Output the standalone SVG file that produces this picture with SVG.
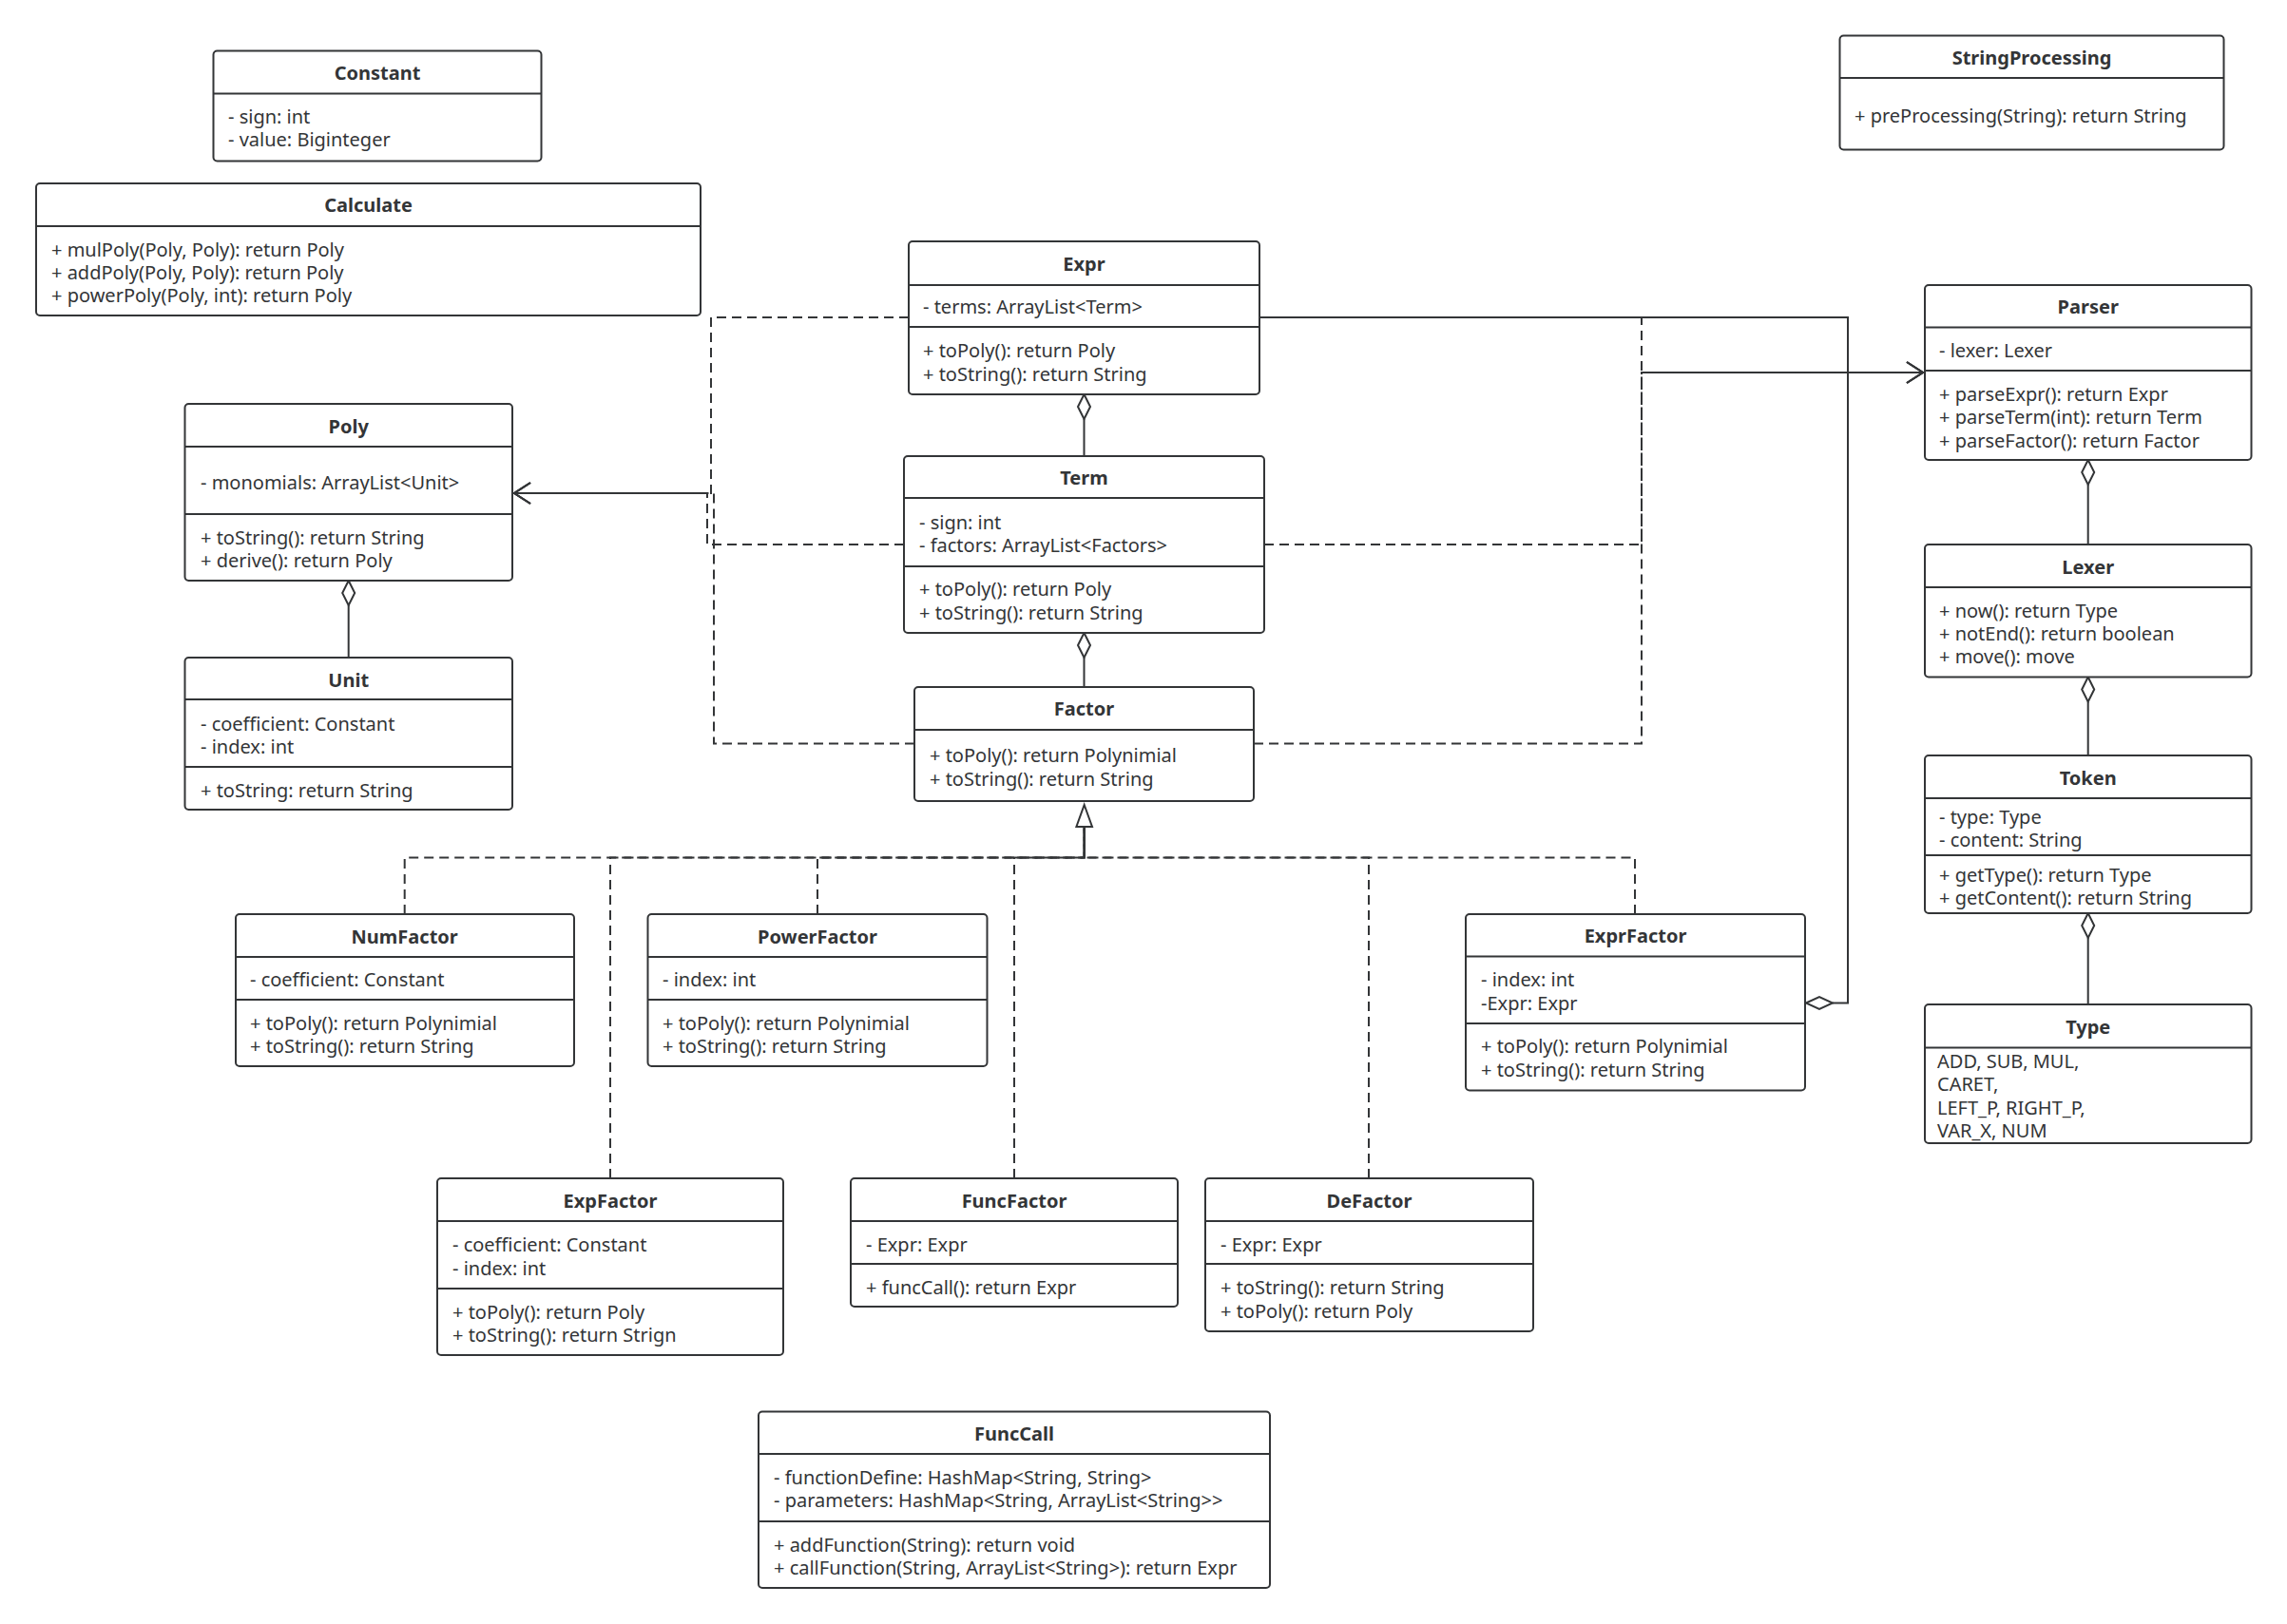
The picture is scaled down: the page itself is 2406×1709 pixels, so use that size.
<svg xmlns="http://www.w3.org/2000/svg" width="2406" height="1709" viewBox="0 0 2406 1709">
<style>
.bg{fill:#ffffff}
.box{fill:#ffffff;stroke:#333537;stroke-width:2}
.dv{stroke:#333537;stroke-width:2}
.t{font-family:"Noto Sans","Open Sans",sans-serif;font-size:20px;fill:#333537;dominant-baseline:central}
.h{font-weight:bold;text-anchor:middle}
.dash{fill:none;stroke:#333537;stroke-width:2;stroke-dasharray:10 6}
.solid{fill:none;stroke:#333537;stroke-width:2}
.dia{fill:#ffffff;stroke:#333537;stroke-width:2}
</style>
<defs>
<marker id="open" markerUnits="userSpaceOnUse" markerWidth="24" markerHeight="28" viewBox="0 0 24 28" refX="20" refY="14" orient="auto">
<path d="M3,3 L20,14 L3,25" fill="none" stroke="#333537" stroke-width="2"/>
</marker>
</defs>
<rect class="bg" x="0" y="0" width="2406" height="1709"/>

<g id="connectors">
<!-- dependencies to Poly -->
<path class="dash" d="M956,334 H748 V519 H541" marker-end="url(#open)"/>
<path class="dash" d="M951,573 H744 V519 H541" marker-end="url(#open)"/>
<path class="dash" d="M962,782.5 H751 V519 H541" marker-end="url(#open)"/>
<!-- dependencies to Parser -->
<path class="dash" d="M1325,334 H1727 V392 H2023" marker-end="url(#open)"/>
<path class="dash" d="M1330,573 H1727 V392 H2023" marker-end="url(#open)"/>
<path class="dash" d="M1319,782.5 H1727 V392 H2023" marker-end="url(#open)"/>
<!-- Expr - ExprFactor aggregation -->
<path class="solid" d="M1325,334 H1944 V1055.5 H1928"/>
<polygon class="dia" points="1900,1055.5 1914,1049 1928,1055.5 1914,1062"/>
<!-- aggregations -->
<path class="solid" d="M1140.5,441 V480"/>
<polygon class="dia" points="1140.5,415 1147,428 1140.5,441 1134,428"/>
<path class="solid" d="M1140.5,692 V723"/>
<polygon class="dia" points="1140.5,666 1147,679 1140.5,692 1134,679"/>
<path class="solid" d="M366.7,637 V692"/>
<polygon class="dia" points="366.7,611 373.2,624 366.7,637 360.2,624"/>
<path class="solid" d="M2196.7,510 V573"/>
<polygon class="dia" points="2196.7,484 2203.2,497 2196.7,510 2190.2,497"/>
<path class="solid" d="M2196.7,738.5 V795"/>
<polygon class="dia" points="2196.7,712.5 2203.2,725.5 2196.7,738.5 2190.2,725.5"/>
<path class="solid" d="M2196.7,987 V1057"/>
<polygon class="dia" points="2196.7,961 2203.2,974 2196.7,987 2190.2,974"/>
<!-- realizations to Factor -->
<path class="dash" d="M425.7,962 V902.5 H1140.7 V870"/>
<path class="dash" d="M642,1240 V902.5 H1140.7 V870"/>
<path class="dash" d="M860,962 V902.5 H1140.7 V870"/>
<path class="dash" d="M1067,1240 V902.5 H1140.7 V870"/>
<path class="dash" d="M1440,1240 V902.5 H1140.7 V870"/>
<path class="dash" d="M1720,962 V902.5 H1140.7 V870"/>
<path class="solid" d="M1140.7,902.5 V870"/>
<polygon class="dia" points="1140.7,847 1149,870 1132.4,870"/>
</g>

<g id="Constant">
<rect class="box" x="224.5" y="53.5" width="345" height="116" rx="4"/>
<line class="dv" x1="224.5" y1="98.5" x2="569.5" y2="98.5"/>
<text class="t h" x="397" y="76">Constant</text>
<text class="t" x="240" y="122.5">- sign: int</text>
<text class="t" x="240" y="146.5">- value: Biginteger</text>
</g>

<g id="Calculate">
<rect class="box" x="38" y="193" width="699" height="139" rx="4"/>
<line class="dv" x1="38" y1="238" x2="737" y2="238"/>
<text class="t h" x="387.5" y="215.5">Calculate</text>
<text class="t" x="54" y="262">+ mulPoly(Poly, Poly): return Poly</text>
<text class="t" x="54" y="286">+ addPoly(Poly, Poly): return Poly</text>
<text class="t" x="54" y="310">+ powerPoly(Poly, int): return Poly</text>
</g>

<g id="StringProcessing">
<rect class="box" x="1935.5" y="37.5" width="404" height="120" rx="4"/>
<line class="dv" x1="1935.5" y1="82" x2="2339.5" y2="82"/>
<text class="t h" x="2137.5" y="60">StringProcessing</text>
<text class="t" x="1951" y="121">+ preProcessing(String): return String</text>
</g>

<g id="Expr">
<rect class="box" x="956" y="254" width="369" height="161" rx="4"/>
<line class="dv" x1="956" y1="300" x2="1325" y2="300"/>
<line class="dv" x1="956" y1="344" x2="1325" y2="344"/>
<text class="t h" x="1140.5" y="277">Expr</text>
<text class="t" x="971" y="322.5">- terms: ArrayList&lt;Term&gt;</text>
<text class="t" x="971" y="368">+ toPoly(): return Poly</text>
<text class="t" x="971" y="393">+ toString(): return String</text>
</g>

<g id="Term">
<rect class="box" x="951" y="480" width="379" height="186" rx="4"/>
<line class="dv" x1="951" y1="524" x2="1330" y2="524"/>
<line class="dv" x1="951" y1="596" x2="1330" y2="596"/>
<text class="t h" x="1140.5" y="502">Term</text>
<text class="t" x="967" y="549">- sign: int</text>
<text class="t" x="967" y="573">- factors: ArrayList&lt;Factors&gt;</text>
<text class="t" x="967" y="619">+ toPoly(): return Poly</text>
<text class="t" x="967" y="644">+ toString(): return String</text>
</g>

<g id="Factor">
<rect class="box" x="962" y="723" width="357" height="120" rx="4"/>
<line class="dv" x1="962" y1="768" x2="1319" y2="768"/>
<text class="t h" x="1140.5" y="745.5">Factor</text>
<text class="t" x="978" y="794">+ toPoly(): return Polynimial</text>
<text class="t" x="978" y="819">+ toString(): return String</text>
</g>

<g id="Poly">
<rect class="box" x="194.5" y="425" width="344.5" height="186" rx="4"/>
<line class="dv" x1="194.5" y1="470" x2="539" y2="470"/>
<line class="dv" x1="194.5" y1="541" x2="539" y2="541"/>
<text class="t h" x="366.7" y="448">Poly</text>
<text class="t" x="211" y="507">- monomials: ArrayList&lt;Unit&gt;</text>
<text class="t" x="211" y="565">+ toString(): return String</text>
<text class="t" x="211" y="589.5">+ derive(): return Poly</text>
</g>

<g id="Unit">
<rect class="box" x="194.5" y="692" width="344.5" height="160" rx="4"/>
<line class="dv" x1="194.5" y1="736" x2="539" y2="736"/>
<line class="dv" x1="194.5" y1="807" x2="539" y2="807"/>
<text class="t h" x="366.7" y="715">Unit</text>
<text class="t" x="211" y="761">- coefficient: Constant</text>
<text class="t" x="211" y="785.5">- index: int</text>
<text class="t" x="211" y="831">+ toString: return String</text>
</g>

<g id="NumFactor">
<rect class="box" x="248" y="962" width="356" height="160" rx="4"/>
<line class="dv" x1="248" y1="1007" x2="604" y2="1007"/>
<line class="dv" x1="248" y1="1052" x2="604" y2="1052"/>
<text class="t h" x="425.7" y="985">NumFactor</text>
<text class="t" x="263" y="1030">- coefficient: Constant</text>
<text class="t" x="263" y="1076">+ toPoly(): return Polynimial</text>
<text class="t" x="263" y="1100.5">+ toString(): return String</text>
</g>

<g id="PowerFactor">
<rect class="box" x="681.5" y="962" width="357" height="160" rx="4"/>
<line class="dv" x1="681.5" y1="1007" x2="1038.5" y2="1007"/>
<line class="dv" x1="681.5" y1="1052" x2="1038.5" y2="1052"/>
<text class="t h" x="860" y="985">PowerFactor</text>
<text class="t" x="697" y="1030">- index: int</text>
<text class="t" x="697" y="1076">+ toPoly(): return Polynimial</text>
<text class="t" x="697" y="1100.5">+ toString(): return String</text>
</g>

<g id="ExprFactor">
<rect class="box" x="1542" y="962" width="357" height="185.5" rx="4"/>
<line class="dv" x1="1542" y1="1006.5" x2="1899" y2="1006.5"/>
<line class="dv" x1="1542" y1="1077" x2="1899" y2="1077"/>
<text class="t h" x="1720.5" y="984.5">ExprFactor</text>
<text class="t" x="1558" y="1030">- index: int</text>
<text class="t" x="1558" y="1055">-Expr: Expr</text>
<text class="t" x="1558" y="1100.5">+ toPoly(): return Polynimial</text>
<text class="t" x="1558" y="1125">+ toString(): return String</text>
</g>

<g id="ExpFactor">
<rect class="box" x="460" y="1240" width="364" height="186" rx="4"/>
<line class="dv" x1="460" y1="1285" x2="824" y2="1285"/>
<line class="dv" x1="460" y1="1356" x2="824" y2="1356"/>
<text class="t h" x="642" y="1263.5">ExpFactor</text>
<text class="t" x="476" y="1309">- coefficient: Constant</text>
<text class="t" x="476" y="1334">- index: int</text>
<text class="t" x="476" y="1380">+ toPoly(): return Poly</text>
<text class="t" x="476" y="1404">+ toString(): return Strign</text>
</g>

<g id="FuncFactor">
<rect class="box" x="895" y="1240" width="344" height="135" rx="4"/>
<line class="dv" x1="895" y1="1285" x2="1239" y2="1285"/>
<line class="dv" x1="895" y1="1330" x2="1239" y2="1330"/>
<text class="t h" x="1067" y="1263.5">FuncFactor</text>
<text class="t" x="911" y="1309">- Expr: Expr</text>
<text class="t" x="911" y="1354">+ funcCall(): return Expr</text>
</g>

<g id="DeFactor">
<rect class="box" x="1268" y="1240" width="345" height="161" rx="4"/>
<line class="dv" x1="1268" y1="1285" x2="1613" y2="1285"/>
<line class="dv" x1="1268" y1="1330" x2="1613" y2="1330"/>
<text class="t h" x="1440.5" y="1263.5">DeFactor</text>
<text class="t" x="1284" y="1309">- Expr: Expr</text>
<text class="t" x="1284" y="1354">+ toString(): return String</text>
<text class="t" x="1284" y="1379">+ toPoly(): return Poly</text>
</g>

<g id="FuncCall">
<rect class="box" x="798" y="1485.5" width="538" height="185.5" rx="4"/>
<line class="dv" x1="798" y1="1530" x2="1336" y2="1530"/>
<line class="dv" x1="798" y1="1601" x2="1336" y2="1601"/>
<text class="t h" x="1067" y="1508.5">FuncCall</text>
<text class="t" x="814" y="1554">- functionDefine: HashMap&lt;String, String&gt;</text>
<text class="t" x="814" y="1578.5">- parameters: HashMap&lt;String, ArrayList&lt;String&gt;&gt;</text>
<text class="t" x="814" y="1625">+ addFunction(String): return void</text>
<text class="t" x="814" y="1649.5">+ callFunction(String, ArrayList&lt;String&gt;): return Expr</text>
</g>

<g id="Parser">
<rect class="box" x="2025" y="300" width="343.5" height="184" rx="4"/>
<line class="dv" x1="2025" y1="344.5" x2="2368.5" y2="344.5"/>
<line class="dv" x1="2025" y1="390" x2="2368.5" y2="390"/>
<text class="t h" x="2196.7" y="322.5">Parser</text>
<text class="t" x="2040" y="368">- lexer: Lexer</text>
<text class="t" x="2040" y="414">+ parseExpr(): return Expr</text>
<text class="t" x="2040" y="438.5">+ parseTerm(int): return Term</text>
<text class="t" x="2040" y="463">+ parseFactor(): return Factor</text>
</g>

<g id="Lexer">
<rect class="box" x="2025" y="573" width="343.5" height="139.5" rx="4"/>
<line class="dv" x1="2025" y1="618" x2="2368.5" y2="618"/>
<text class="t h" x="2196.7" y="596">Lexer</text>
<text class="t" x="2040" y="642">+ now(): return Type</text>
<text class="t" x="2040" y="666">+ notEnd(): return boolean</text>
<text class="t" x="2040" y="690.5">+ move(): move</text>
</g>

<g id="Token">
<rect class="box" x="2025" y="795" width="343.5" height="166" rx="4"/>
<line class="dv" x1="2025" y1="840" x2="2368.5" y2="840"/>
<line class="dv" x1="2025" y1="900" x2="2368.5" y2="900"/>
<text class="t h" x="2196.7" y="818.5">Token</text>
<text class="t" x="2040" y="859">- type: Type</text>
<text class="t" x="2040" y="883">- content: String</text>
<text class="t" x="2040" y="920">+ getType(): return Type</text>
<text class="t" x="2040" y="944">+ getContent(): return String</text>
</g>

<g id="Type">
<rect class="box" x="2025" y="1057" width="343.5" height="146" rx="4"/>
<line class="dv" x1="2025" y1="1102.5" x2="2368.5" y2="1102.5"/>
<text class="t h" x="2196.7" y="1080.5">Type</text>
<text class="t" x="2038" y="1116">ADD, SUB, MUL,</text>
<text class="t" x="2038" y="1140.5">CARET,</text>
<text class="t" x="2038" y="1165">LEFT_P, RIGHT_P,</text>
<text class="t" x="2038" y="1189.5">VAR_X, NUM</text>
</g>
</svg>
